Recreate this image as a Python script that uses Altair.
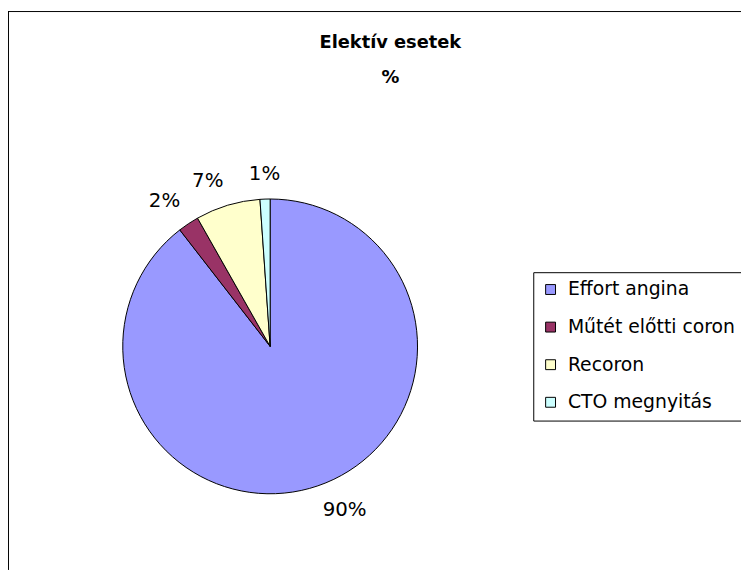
import altair as alt
import pandas as pd

# ---- data ----
categories = ["Effort angina", "Műtét előtti coron", "Recoron", "CTO megnyitás"]
values = [89.5, 2.3, 7.1, 1.1]          # per cent of elective cases
colors = ["#9999FF", "#993366", "#FFFFCC", "#CCFFFF"]
title_lines = ["Elektív esetek", "%"]

labels = [f"{round(v)}%" for v in values]
df = pd.DataFrame({
    "category": categories,
    "value": values,
    "label": labels,
    "order": list(range(len(categories))),
})
total = float(sum(values))

# ---- layout / style ----
W, H = 741, 565
CX, CY, R = 265, 339, 149
LABEL_R = 164
FONT = "DejaVu Sans"
FS = 20
LFS = 19

theta_scale = alt.Scale(domain=[0, total])
base = alt.Chart(df)

pie = base.mark_arc(radius=R, stroke="black", strokeWidth=1).encode(
    x=alt.value(CX),
    y=alt.value(CY),
    theta=alt.Theta("value:Q", stack=True, scale=theta_scale),
    color=alt.Color(
        "category:N",
        sort=categories,
        scale=alt.Scale(domain=categories, range=colors),
        legend=alt.Legend(
            title=None, orient="none", legendX=531, legendY=264,
            symbolType="square", symbolSize=100,
            symbolStrokeColor="black", symbolStrokeWidth=1,
            labelFont=FONT, labelFontSize=LFS, labelColor="black",
            labelLimit=600,
            labelOffset=8, rowPadding=18, padding=8,
            strokeColor="black", fillColor="white",
        ),
    ),
    order=alt.Order("order:Q"),
)

# Excel-like label placement: text box sits just outside the slice midpoint
zones = [
    ("datum.ang >= 350 || datum.ang < 10", "center", "bottom"),
    ("datum.ang >= 10 && datum.ang < 90", "left", "bottom"),
    ("datum.ang >= 90 && datum.ang < 170", "left", "top"),
    ("datum.ang >= 170 && datum.ang < 190", "center", "top"),
    ("datum.ang >= 190 && datum.ang < 270", "right", "top"),
    ("datum.ang >= 270 && datum.ang < 350", "right", "bottom"),
]
texts = []
for expr, align, baseline in zones:
    t = (
        base.transform_joinaggregate(tot="sum(value)")
        .transform_window(cum="sum(value)", sort=[alt.SortField("order")], frame=[None, 0])
        .transform_calculate(mid="datum.cum - datum.value / 2")
        .transform_calculate(ang="datum.mid / datum.tot * 360")
        .transform_filter(expr)
        .mark_text(radius=LABEL_R, align=align, baseline=baseline,
                   font=FONT, fontSize=FS, color="black")
        .encode(
            x=alt.value(CX),
            y=alt.value(CY),
            theta=alt.Theta("mid:Q", scale=theta_scale),
            text="label:N",
        )
    )
    texts.append(t)

frame_df = pd.DataFrame({"k": [0]})
left_edge = alt.Chart(frame_df).mark_rule(color="black", strokeWidth=1).encode(
    x=alt.value(0.5), y=alt.value(0), y2=alt.value(H)
)
top_edge = alt.Chart(frame_df).mark_rule(color="black", strokeWidth=1).encode(
    x=alt.value(0), x2=alt.value(W), y=alt.value(0.5)
)

chart = (
    alt.layer(left_edge, top_edge, pie, *texts)
    .properties(
        width=W,
        height=H,
        padding=0,
        autosize=alt.AutoSizeParams(type="none"),
        background="white",
        title=alt.TitleParams(
            text=title_lines, font=FONT, fontSize=18, fontWeight="bold",
            color="black", anchor="middle", frame="group",
            offset=-77, dx=16, lineHeight=35,
        ),
    )
    .configure_view(stroke="transparent")
)

chart.save("out.html", embed_options={"renderer": "svg", "actions": False})
